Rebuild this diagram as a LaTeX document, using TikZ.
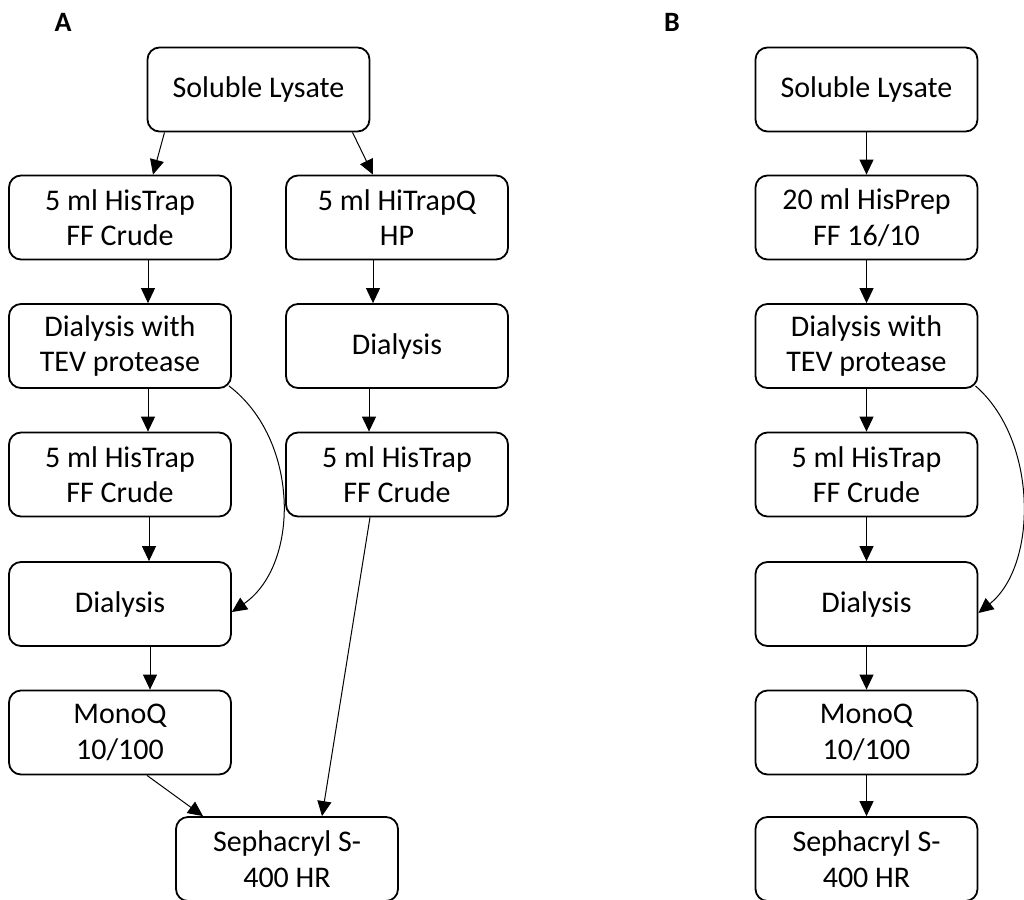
\documentclass[tikz,border=0pt]{standalone}
\usepackage{fontspec}
\setmainfont{Carlito}
\usetikzlibrary{arrows.meta}
\begin{document}
\begin{tikzpicture}[x=1pt,y=-1pt,
  box/.style={draw, line width=1.8pt, rounded corners=12pt, minimum width=222pt, minimum height=84pt, align=center, inner sep=0pt, font=\fontsize{30}{35.5}\selectfont},
  arr/.style={line width=1pt, -{Triangle[length=15pt,width=14pt]}},
  lab/.style={font=\bfseries\fontsize{28}{32}\selectfont}]
\useasboundingbox (0,0) rectangle (1024,899);
% Panel A
\node[lab] (la) at (63,22) {A};
\node[box] (sl) at (258.5,89.5) {Soluble Lysate};
\node[box] (h1) at (120,217.5) {5 ml HisTrap\\FF Crude};
\node[box] (q1) at (397,217.5) {5 ml HiTrapQ\\HP};
\node[box] (d1) at (120,346) {Dialysis with\\TEV protease};
\node[box] (d2) at (397,346) {Dialysis};
\node[box] (h2) at (120,474.5) {5 ml HisTrap\\FF Crude};
\node[box] (h3) at (397,474.5) {5 ml HisTrap\\FF Crude};
\node[box] (d3) at (120,604) {Dialysis};
\node[box] (m) at (120,732.5) {MonoQ\\10/100};
\node[box] (s) at (287,859) {Sephacryl S-\\400 HR};
\draw[arr] ([xshift=-94pt]sl.south) -- ([xshift=33pt]h1.north);
\draw[arr] ([xshift=94pt]sl.south) -- ([xshift=-24pt]q1.north);
\draw[arr] ([xshift=28pt]h1.south) -- ([xshift=28pt]d1.north);
\draw[arr] ([xshift=28pt]d1.south) -- ([xshift=28pt]h2.north);
\draw[arr] ([xshift=29pt]h2.south) -- ([xshift=29pt]d3.north);
\draw[arr] ([xshift=30pt]d3.south) -- ([xshift=30pt]m.north);
\draw[arr] ([xshift=-24pt]q1.south) -- ([xshift=-24pt]d2.north);
\draw[arr] ([xshift=-28pt]d2.south) -- ([xshift=-28pt]h3.north);
\draw[arr] ([xshift=27pt]m.south) -- ([xshift=-84pt]s.north);
\draw[arr] ([xshift=-27pt]h3.south) -- ([xshift=35pt]s.north);
\draw[arr] ([xshift=-3pt,yshift=3pt]d1.south east) .. controls (300,440) and (300,565) .. ([yshift=-8pt]d3.east);
% Panel B
\node[lab] (lb) at (672,22) {B};
\node[box] (bsl) at (866.5,89.5) {Soluble Lysate};
\node[box] (bhp) at (866.5,217.5) {20 ml HisPrep\\FF 16/10};
\node[box] (bd1) at (866.5,346) {Dialysis with\\TEV protease};
\node[box] (bh) at (866.5,474.5) {5 ml HisTrap\\FF Crude};
\node[box] (bd2) at (866.5,604) {Dialysis};
\node[box] (bm) at (866.5,732.5) {MonoQ\\10/100};
\node[box] (bs) at (866.5,859) {Sephacryl S-\\400 HR};
\draw[arr] (bsl) -- (bhp);
\draw[arr] (bhp) -- (bd1);
\draw[arr] (bd1) -- (bh);
\draw[arr] (bh) -- (bd2);
\draw[arr] (bd2) -- (bm);
\draw[arr] (bm) -- (bs);
\draw[arr] ([xshift=-3pt,yshift=3pt]bd1.south east) .. controls (1038,440) and (1038,565) .. ([yshift=-9pt]bd2.east);
\end{tikzpicture}
\end{document}
